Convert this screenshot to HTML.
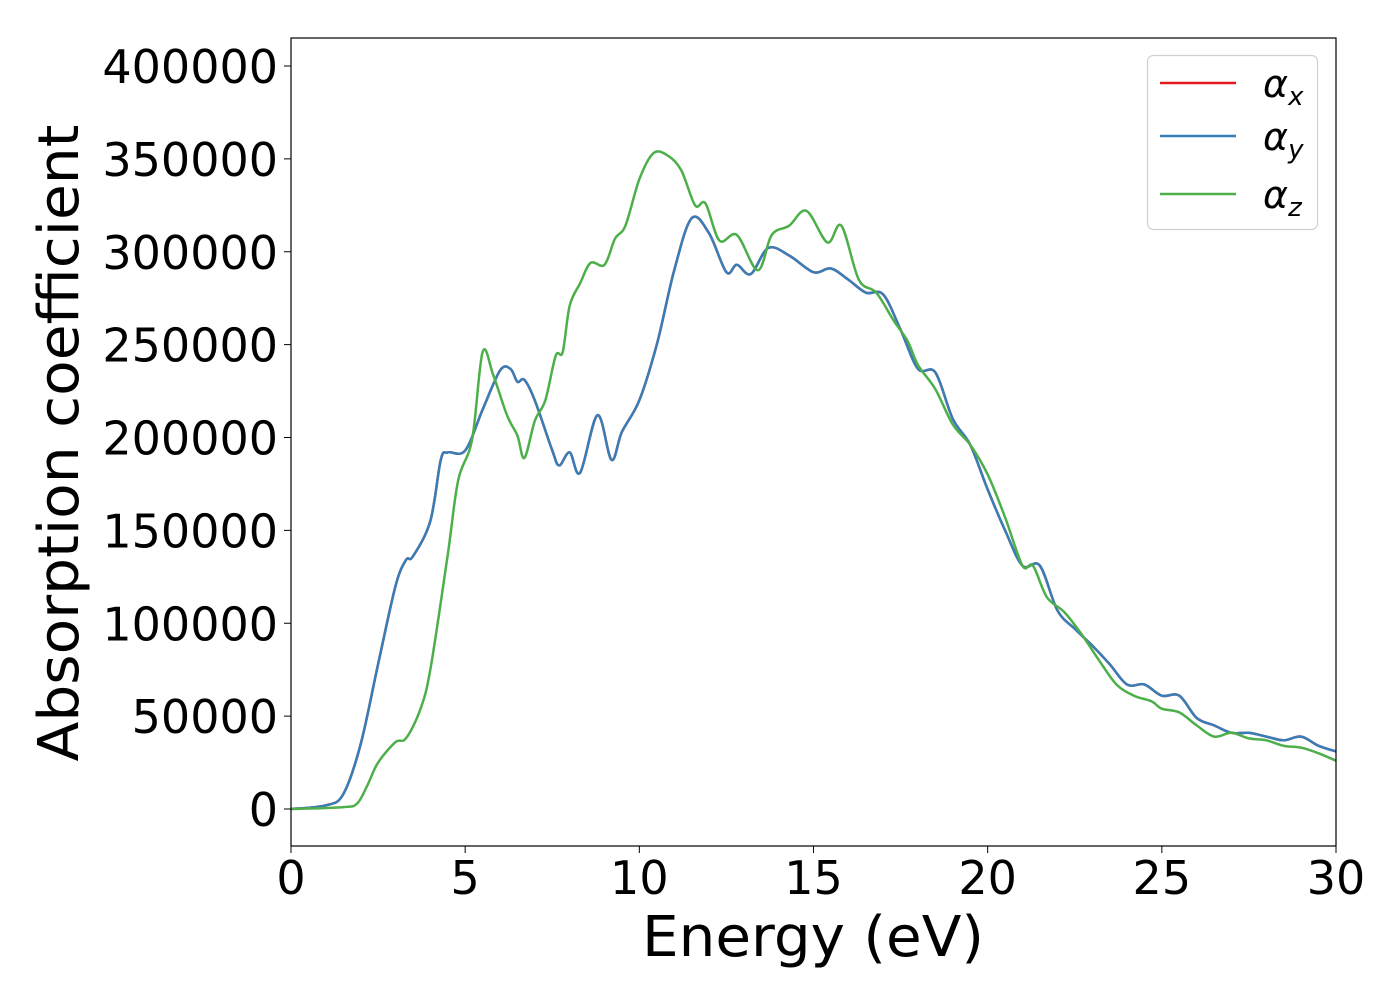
<!DOCTYPE html>
<html><head><meta charset="utf-8"><style>
body{margin:0;background:#fff}
svg text{font-family:"DejaVu Sans","Liberation Sans",sans-serif;fill:#000}
</style></head><body>
<svg id="chart" width="1400" height="1000" viewBox="0 0 1400 1000" xmlns="http://www.w3.org/2000/svg">
<rect width="1400" height="1000" fill="#fff"/>
<g id="series"></g>
<g id="axes"></g>
<rect x="291" y="38" width="1045" height="808" fill="none" stroke="#000" stroke-width="1.2"/>
<text x="813" y="956" font-size="56" text-anchor="middle" textLength="342" lengthAdjust="spacingAndGlyphs">Energy (eV)</text>
<text transform="translate(78,443) rotate(-90)" font-size="56" text-anchor="middle" textLength="637" lengthAdjust="spacingAndGlyphs">Absorption coefficient</text>
<g>
<rect x="1147.5" y="55.5" width="170" height="174" rx="6" fill="#fff" stroke="#d0d0d0" stroke-width="1.2"/>
<line x1="1160" y1="83" x2="1236" y2="83" stroke="#e41a1c" stroke-width="2.5"/>
<text x="1263" y="97" font-size="38" font-style="italic">α<tspan font-size="26" dy="8">x</tspan></text>
<line x1="1160" y1="136" x2="1236" y2="136" stroke="#377eb8" stroke-width="2.5"/>
<text x="1263" y="150" font-size="38" font-style="italic">α<tspan font-size="26" dy="8">y</tspan></text>
<line x1="1160" y1="194" x2="1236" y2="194" stroke="#4daf4a" stroke-width="2.5"/>
<text x="1263" y="208" font-size="38" font-style="italic">α<tspan font-size="26" dy="8">z</tspan></text>
</g>
</svg>
<script>
const xyEnergy=[0,1.0,1.5,2.0,2.5,3.0,3.3,3.5,4.0,4.3,4.5,5.0,5.5,6.0,6.3,6.5,6.7,7.0,7.5,7.7,8.0,8.3,8.8,9.2,9.5,10.0,10.5,11.0,11.5,12.0,12.5,12.8,13.2,13.7,14.3,15.0,15.5,16.0,16.5,17.0,17.5,18.0,18.5,19.0,19.5,20.0,20.5,21.0,21.5,22.0,22.5,23.0,23.5,24.0,24.5,25.0,25.5,26.0,26.5,27.0,27.5,28.0,28.5,29.0,29.5,30];
const alphaX=[0,2,8,35,78,120,134,136,155,188,192,193,215,236,237,230,231,220,193,185,192,181,212,188,203,220,250,290,318,310,289,293,288,302,298,289,291,285,278,277,258,237,235,210,196,172,150,131,131,107,97,88,78,67,67,61,61,49,45,41,41,39,37,39,34,31];
const alphaY=[0,2,8,35,78,120,134,136,155,188,192,193,215,236,237,230,231,220,193,185,192,181,212,188,203,220,250,290,318,310,289,293,288,302,298,289,291,285,278,277,258,237,235,210,196,172,150,131,131,107,97,88,78,67,67,61,61,49,45,41,41,39,37,39,34,31];
const zEnergy=[0,1.5,1.9,2.2,2.5,3.0,3.3,3.7,4.0,4.5,4.8,5.2,5.5,5.8,6.2,6.5,6.7,7.0,7.3,7.6,7.8,8.0,8.3,8.6,9.0,9.3,9.6,10.0,10.4,10.8,11.2,11.6,11.9,12.3,12.8,13.4,13.8,14.3,14.8,15.4,15.8,16.3,16.8,17.3,17.7,18.0,18.5,19.0,19.5,20.0,20.5,21.0,21.3,21.7,22.2,22.7,23.2,23.7,24.2,24.7,25.0,25.5,26.0,26.5,27.0,27.5,28.0,28.5,29.0,29.5,30];
const alphaZ=[0,1,3,13,25,36,38,53,75,137,177,199,246,234,212,201,189,209,220,244,246,271,283,294,293,307,314,339,353,352,344,325,326,306,309,290,309,314,322,305,314,285,278,263,252,239,226,207,196,180,157,131,131,114,106,94,80,67,61,58,54,52,45,39,41,38,37,34,33,30,26];
const xTicks=[0,5,10,15,20,25,30];
const yTicks=[0,50000,100000,150000,200000,250000,300000,350000,400000];

const X0=291,X1=1336,XMAX=30,Y0=809,YPX=743/400000;
function sx(e){return X0+e*(X1-X0)/XMAX;}
function sy(v){return Y0-v*YPX;}
const NS="http://www.w3.org/2000/svg";
function pathFor(es,vs){
  const p=es.map((e,i)=>[sx(e),sy(vs[i]*1000)]);
  let d="M"+p[0][0].toFixed(1)+","+p[0][1].toFixed(1);
  for(let i=0;i<p.length-1;i++){
    const a=p[Math.max(0,i-1)],b=p[i],c=p[i+1],n=p[Math.min(p.length-1,i+2)];
    const c1=[b[0]+(c[0]-a[0])/6,b[1]+(c[1]-a[1])/6],c2=[c[0]-(n[0]-b[0])/6,c[1]-(n[1]-b[1])/6];
    d+="C"+c1.map(v=>v.toFixed(1)).join(",")+" "+c2.map(v=>v.toFixed(1)).join(",")+" "+c[0].toFixed(1)+","+c[1].toFixed(1);
  }
  return d;
}
const g=document.getElementById("series");
function addLine(es,vs,color,name){
  const el=document.createElementNS(NS,"path");
  el.setAttribute("d",pathFor(es,vs));
  el.setAttribute("fill","none");el.setAttribute("stroke",color);el.setAttribute("stroke-width","2.5");
  
  
  g.appendChild(el);
}
addLine(xyEnergy,alphaX,"#e41a1c","alpha-x-line");
addLine(xyEnergy,alphaY,"#377eb8","alpha-y-line");
addLine(zEnergy,alphaZ,"#4daf4a","alpha-z-line");
const ax=document.getElementById("axes");
xTicks.forEach(t=>{
  const l=document.createElementNS(NS,"line");
  l.setAttribute("x1",sx(t));l.setAttribute("x2",sx(t));l.setAttribute("y1",846);l.setAttribute("y2",853);l.setAttribute("stroke","#000");
  
  
  ax.appendChild(l);
  const tx=document.createElementNS(NS,"text");
  tx.setAttribute("x",sx(t));tx.setAttribute("y",894);tx.setAttribute("font-size","46");tx.setAttribute("text-anchor","middle");
  tx.textContent=t;
  
  
  ax.appendChild(tx);
});
yTicks.forEach(t=>{
  const l=document.createElementNS(NS,"line");
  l.setAttribute("x1",284);l.setAttribute("x2",291);l.setAttribute("y1",sy(t));l.setAttribute("y2",sy(t));l.setAttribute("stroke","#000");
  
  
  ax.appendChild(l);
  const tx=document.createElementNS(NS,"text");
  tx.setAttribute("x",278);tx.setAttribute("y",sy(t)+17);tx.setAttribute("font-size","46");tx.setAttribute("text-anchor","end");
  tx.textContent=t;
  
  
  ax.appendChild(tx);
});
</script>
</body></html>
